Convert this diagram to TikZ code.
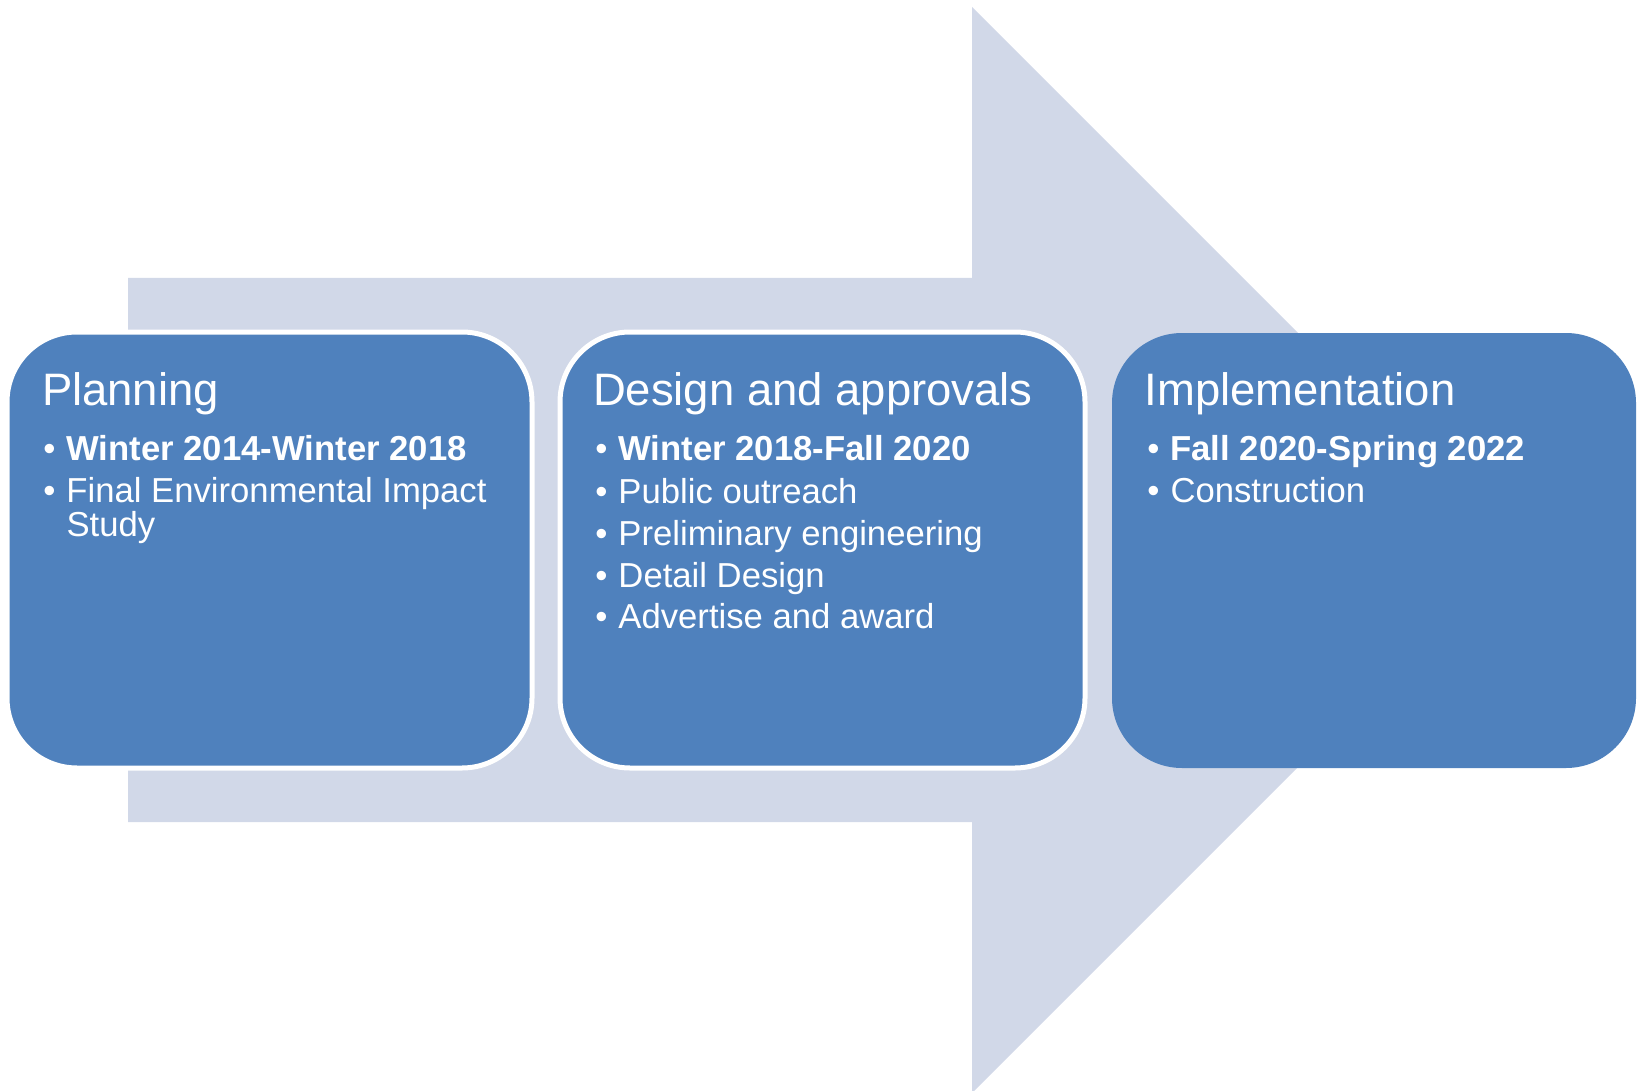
\documentclass[tikz,border=0pt]{standalone}
\usepackage{fontspec}
\setmainfont{Liberation Sans}

\definecolor{phaseblue}{RGB}{79,129,189}
\definecolor{arrowgrey}{RGB}{209,216,232}

\tikzset{every picture/.style={line width=0.75pt}}
\tikzset{
  phase/.style={draw=white, line width=3.75pt, fill=phaseblue, rounded corners=52.5pt,
    minimum width=393.75pt, minimum height=327pt, inner sep=0pt},
  phasetitle/.style={anchor=base west, text=white, inner sep=0pt,
    font=\fontsize{34.1}{40}\selectfont},
  phaseitem/.style={anchor=base west, text=white, inner sep=0pt, align=left,
    font=\fontsize{26}{23.5}\selectfont},
}
\newcommand{\bul}{\llap{\textbullet\hspace{8.25pt}}}

\begin{document}
\begin{tikzpicture}[x=0.75pt,y=0.75pt,yscale=-1,xscale=1]
	\useasboundingbox (0,0) rectangle (1638,1091);

	%Shape: Arrow
	\fill [arrowgrey] (128,278) -- (972,278) -- (972,7) -- (1515,550) -- (972,1093) -- (972,822) -- (128,822) -- cycle ;

	%Shape: Rounded Rectangles
	\node [phase] (planning) at (269.5,550) {};
	\node [phase] (design) at (822.5,550) {};
	\node [phase, draw=none, minimum width=393pt, minimum height=326.25pt] (implementation) at (1374,550.5) {};

	% Text Nodes: Planning
	\node [phasetitle] (planningTitle) at (41.5,405) {Planning};
	\node [phaseitem] (planningDates) at (66,460) {\bul\textbf{Winter 2014-Winter 2018}};
	% base of a two-line node is its last line
	\node [phaseitem] (planningStudy) at (66,536) {\bul Final Environmental Impact\\Study};

	% Text Nodes: Design and approvals
	\node [phasetitle] (designTitle) at (592.5,405) {Design and approvals};
	\node [phaseitem] (designDates) at (618,460) {\bul\textbf{Winter 2018-Fall 2020}};
	\node [phaseitem] (designOutreach) at (618,503) {\bul Public outreach};
	\node [phaseitem] (designEngineering) at (618,545) {\bul Preliminary engineering};
	\node [phaseitem] (designDetail) at (618,587) {\bul Detail Design};
	\node [phaseitem] (designAward) at (618,628) {\bul Advertise and award};

	% Text Nodes: Implementation
	\node [phasetitle] (implementationTitle) at (1144,405) {Implementation};
	\node [phaseitem] (implementationDates) at (1170,460) {\bul\textbf{Fall 2020-Spring 2022}};
	\node [phaseitem] (implementationWork) at (1170,502) {\bul Construction};

\end{tikzpicture}
\end{document}
